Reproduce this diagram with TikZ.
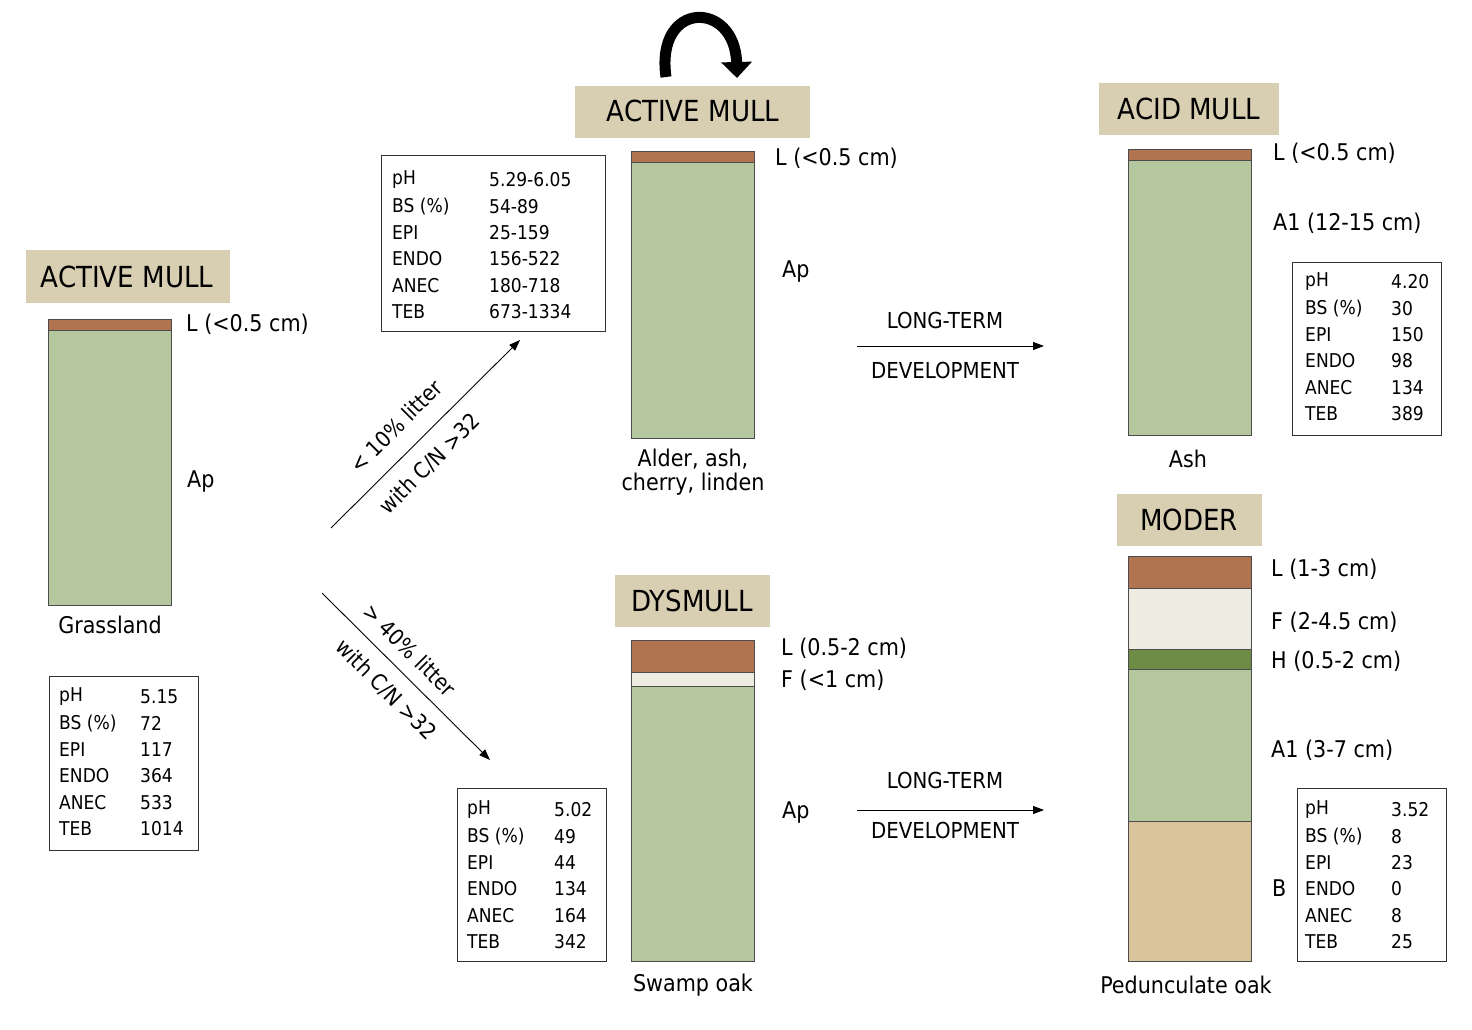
\documentclass[tikz,border=0pt]{standalone}
\usepackage{fontspec}
\setmainfont{DejaVu Sans Condensed}
\usetikzlibrary{arrows.meta}
\definecolor{tanb}{HTML}{D8CFB3}
\definecolor{grn}{HTML}{B5C79E}
\definecolor{brn}{HTML}{B07550}
\definecolor{crm}{HTML}{EEEBE0}
\definecolor{dgrn}{HTML}{6E8C45}
\definecolor{sand}{HTML}{D9C49C}
\tikzset{
 title/.style={font=\fontsize{29}{30}\selectfont},
 lay/.style={draw=black!70,line width=0.8pt},
 lbl/.style={anchor=west,font=\fontsize{23}{24}\selectfont,inner sep=0},
 capt/.style={font=\fontsize{23}{22}\selectfont,align=center,inner sep=0},
 tb/.style={draw=black!80,line width=0.8pt},
 tt/.style={anchor=west,font=\fontsize{19}{20}\selectfont,inner sep=0},
 arr/.style={line width=0.9pt,-{Triangle[width=8pt,length=11pt]}},
 alab/.style={font=\fontsize{22}{22}\selectfont,inner sep=0},
}
\newcommand\stab[9]{%
 \draw[tb] (#2,#3) rectangle (#4,#5);
 \foreach \k/\v [count=\i from 0] in {#9} {
  \node[tt] (#1k\i) at (#6,#8+\i*26.3) {\k};
  \node[tt] (#1v\i) at (#7,#8+\i*26.3) {\v};
 }}
\begin{document}
\begin{tikzpicture}[x=1pt,y=-1pt]
\useasboundingbox (0,0) rectangle (1472,1030);
% left
\fill[tanb] (26,250) rectangle (230,303);
\node[title] (t1) at (127,277) {ACTIVE MULL};
\draw[lay,fill=brn] (48,319) rectangle (171,330);
\draw[lay,fill=grn] (48,330) rectangle (171,605);
\node[lbl] (l1) at (186,324) {L (<0.5 cm)};
\node[lbl] (l2) at (187,482) {Ap};
\node[capt] (c1) at (110,625) {Grassland};
\stab{a}{49}{676}{198}{850}{59}{140}{697}{pH/5.15,BS (\%)/72,EPI/117,ENDO/364,ANEC/533,TEB/1014}
% top mid
\fill[tanb] (575,86) rectangle (810,138);
\node[title] (t2) at (693,111) {ACTIVE MULL};
\coordinate (cs) at (666,77);
\coordinate (ce) at (737,78);
\draw[line width=11pt,-{Triangle[width=30pt,length=16pt]}] (cs) .. controls (655,0) and (735,0) .. (ce);
\draw[lay,fill=brn] (631,151) rectangle (754,162);
\draw[lay,fill=grn] (631,162) rectangle (754,438);
\node[lbl] (l3) at (775,158) {L (<0.5 cm)};
\node[lbl] (l4) at (782,272) {Ap};
\node[capt,font=\fontsize{23}{24}\selectfont] (c2) at (693,472) {Alder, ash,\\cherry, linden};
\stab{b}{381}{155}{605}{331}{392}{489}{180}{pH/5.29-6.05,BS (\%)/54-89,EPI/25-159,ENDO/156-522,ANEC/180-718,TEB/673-1334}
% diagonal arrows
\coordinate (d1s) at (331,528); \coordinate (d1e) at (520,340);
\draw[arr] (d1s) -- (d1e);
\node[alab,rotate=45] at (396,426) {< 10\% litter};
\node[alab,rotate=45] at (430,464) {with C/N >32};
\coordinate (d2s) at (322,593); \coordinate (d2e) at (490,760);
\draw[arr] (d2s) -- (d2e);
\node[alab,rotate=-45] at (410,650) {> 40\% litter};
\node[alab,rotate=-45] at (386,690) {with C/N >32};
% dysmull
\fill[tanb] (615,575) rectangle (770,627);
\node[title] (t3) at (692,601) {DYSMULL};
\draw[lay,fill=brn] (631,640) rectangle (754,672);
\draw[lay,fill=crm] (631,672) rectangle (754,686);
\draw[lay,fill=grn] (631,686) rectangle (754,961);
\node[lbl] (l5) at (781,648) {L (0.5-2 cm)};
\node[lbl] (l6) at (781,680) {F (<1 cm)};
\node[lbl] (l7) at (782,812) {Ap};
\node[capt] (c3) at (693,985) {Swamp oak};
\stab{c}{457}{788}{606}{961}{467}{554}{810}{pH/5.02,BS (\%)/49,EPI/44,ENDO/134,ANEC/164,TEB/342}
% long-term
\coordinate (h1s) at (857,346); \coordinate (h1e) at (1044,346);
\draw[arr] (h1s) -- (h1e);
\node[alab] at (945,320) {LONG-TERM};
\node[alab] at (945,370) {DEVELOPMENT};
\coordinate (h2s) at (857,810); \coordinate (h2e) at (1044,810);
\draw[arr] (h2s) -- (h2e);
\node[alab] at (945,780) {LONG-TERM};
\node[alab] at (945,830) {DEVELOPMENT};
% acid mull
\fill[tanb] (1099,83) rectangle (1279,135);
\node[title] (t4) at (1189,109) {ACID MULL};
\draw[lay,fill=brn] (1128,149) rectangle (1251,160);
\draw[lay,fill=grn] (1128,160) rectangle (1251,435);
\node[lbl] (l8) at (1273,153) {L (<0.5 cm)};
\node[lbl] (l9) at (1273,223) {A1 (12-15 cm)};
\node[capt] (c4) at (1188,459) {Ash};
\stab{d}{1292}{262}{1441}{435}{1305}{1391}{282}{pH/4.20,BS (\%)/30,EPI/150,ENDO/98,ANEC/134,TEB/389}
% moder
\fill[tanb] (1117,494) rectangle (1262,546);
\node[title] (t5) at (1189,520) {MODER};
\draw[lay,fill=brn] (1128,556) rectangle (1251,588);
\draw[lay,fill=crm] (1128,588) rectangle (1251,649);
\draw[lay,fill=dgrn] (1128,649) rectangle (1251,669);
\draw[lay,fill=grn] (1128,669) rectangle (1251,821);
\draw[lay,fill=sand] (1128,821) rectangle (1251,961);
\node[lbl] (m1) at (1271,569) {L (1-3 cm)};
\node[lbl] (m2) at (1271,622) {F (2-4.5 cm)};
\node[lbl] (m3) at (1271,661) {H (0.5-2 cm)};
\node[lbl] (m4) at (1271,750) {A1 (3-7 cm)};
\node[lbl] (m5) at (1272,888) {B};
\node[capt] (c5) at (1186,985) {Pedunculate oak};
\stab{e}{1297}{788}{1446}{961}{1305}{1391}{810}{pH/3.52,BS (\%)/8,EPI/23,ENDO/0,ANEC/8,TEB/25}
\end{tikzpicture}
\end{document}
